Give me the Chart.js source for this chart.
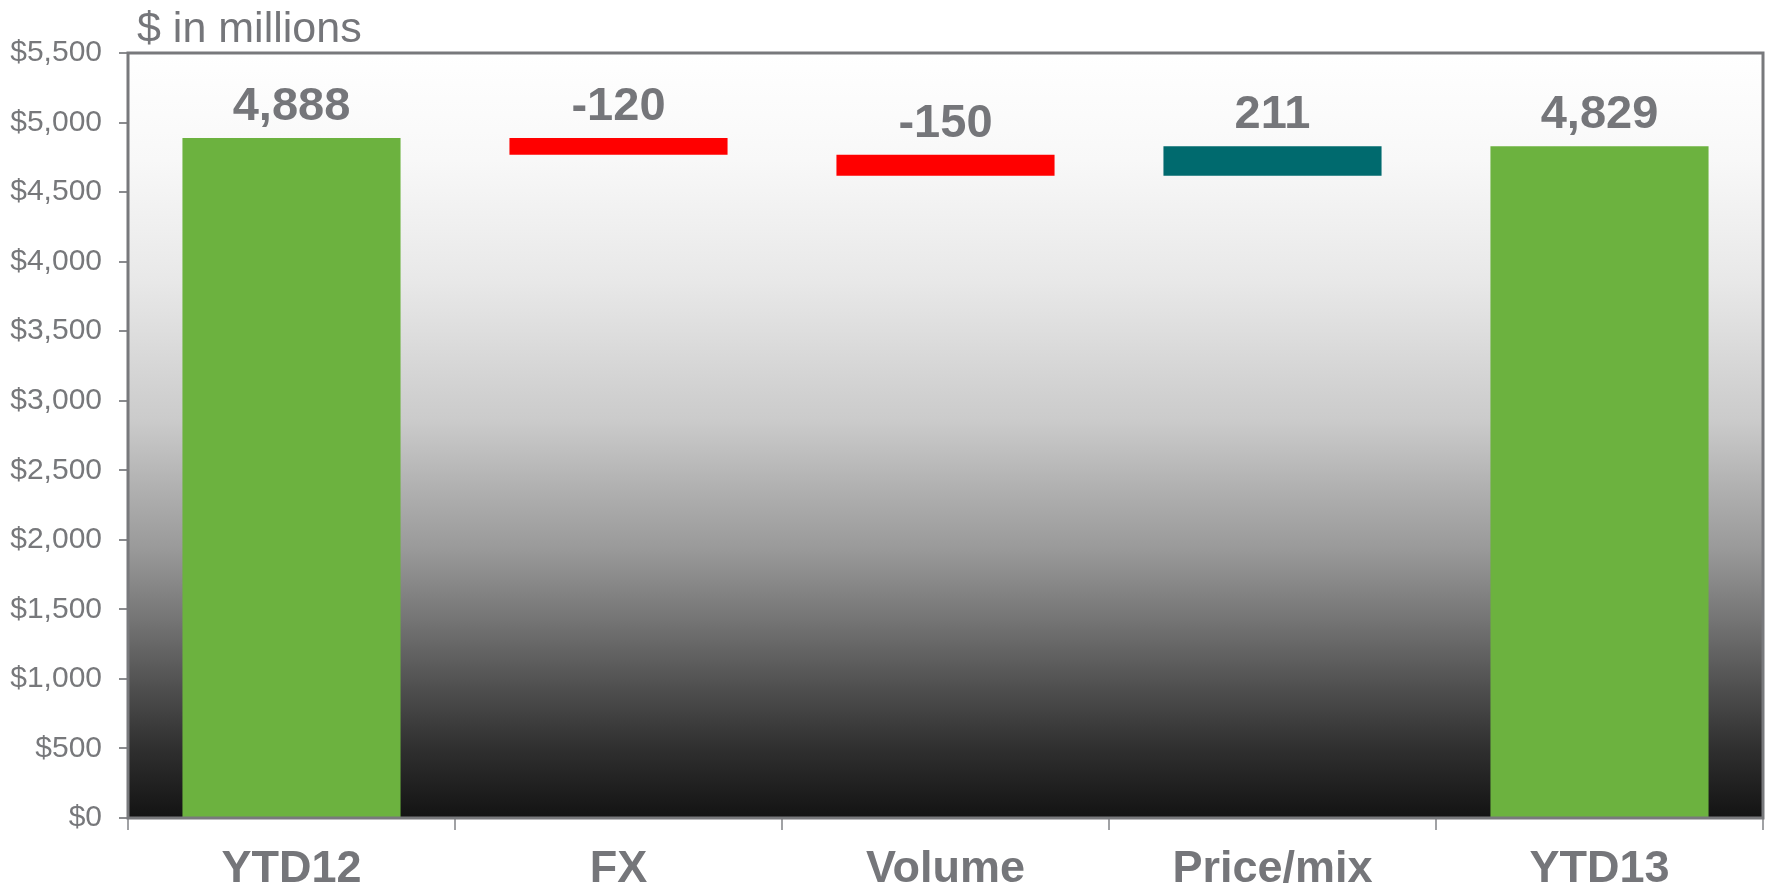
<!DOCTYPE html>
<html>
<head>
<meta charset="utf-8">
<script src="https://cdn.jsdelivr.net/npm/chart.js@4.4.1/dist/chart.umd.min.js"></script>
<style>
    html, body { margin: 0; padding: 0; background: #ffffff; }
    #wrap { width: 1769px; height: 890px; position: relative; }
</style>
</head>
<body>
<div id="wrap"><canvas id="waterfallChart"></canvas></div>
<script>
// Waterfall data, $ in millions
const categories = ['YTD12', 'FX', 'Volume', 'Price/mix', 'YTD13'];
const changes = [4888, -120, -150, 211, 4829];
const barKinds = ['total', 'delta', 'delta', 'delta', 'total'];
const yTicks = [0, 500, 1000, 1500, 2000, 2500, 3000, 3500, 4000, 4500, 5000, 5500];

const FONT = "'Liberation Sans', Arial, sans-serif";
const GREY = '#75767a';
const green = '#6cb23f';
const red = '#ff0000';
const teal = '#006a6e';

// Build floating [start, end] ranges from the running total
let running = 0;
const ranges = changes.map((v, i) => {
    if (barKinds[i] === 'total') {
        running = v;
        return [0, v];
    }
    const start = running;
    running += v;
    return [start, running];
});
const colors = changes.map((v, i) => barKinds[i] === 'total' ? green : (v < 0 ? red : teal));

// Plot area background + frame + value labels + unit note
const decorations = {
    id: 'decorations',
    beforeDatasetsDraw(chart) {
        const { ctx, chartArea: a } = chart;
        const g = ctx.createLinearGradient(0, a.top, 0, a.bottom);
        g.addColorStop(0, '#ffffff');
        g.addColorStop(0.14, '#f8f8f8');
        g.addColorStop(0.30, '#e8e8e8');
        g.addColorStop(0.48, '#cbcbcb');
        g.addColorStop(0.57, '#b0b0b0');
        g.addColorStop(0.65, '#999999');
        g.addColorStop(0.74, '#757575');
        g.addColorStop(0.83, '#4f4f4f');
        g.addColorStop(0.91, '#2f2f2f');
        g.addColorStop(1, '#131313');
        ctx.save();
        ctx.fillStyle = g;
        ctx.fillRect(a.left, a.top, a.right - a.left, a.bottom - a.top);
        ctx.restore();
    },
    afterDatasetsDraw(chart) {
        const { ctx, chartArea: a } = chart;
        ctx.save();
        ctx.strokeStyle = '#78797c';
        ctx.lineWidth = 3;
        ctx.strokeRect(a.left, a.top, a.right - a.left, a.bottom - a.top);

        // value labels above each bar
        ctx.fillStyle = GREY;
        ctx.font = 'bold 47px ' + FONT;
        ctx.textAlign = 'center';
        ctx.textBaseline = 'alphabetic';
        chart.getDatasetMeta(0).data.forEach((bar, i) => {
            const top = Math.min(bar.y, bar.base);
            ctx.fillText(changes[i].toLocaleString('en-US'), bar.x, top - 18);
        });

        // unit note
        ctx.font = '43px ' + FONT;
        ctx.textAlign = 'left';
        ctx.fillText('$ in millions', a.left + 9, 42);
        ctx.restore();
    }
};

const ctx = document.getElementById('waterfallChart').getContext('2d');
new Chart(ctx, {
    type: 'bar',
    data: {
        labels: categories,
        datasets: [{
            data: ranges,
            backgroundColor: colors,
            borderWidth: 0,
            borderSkipped: false,
            barPercentage: 0.667,
            categoryPercentage: 1.0
        }]
    },
    options: {
        responsive: true,
        maintainAspectRatio: false,
        animation: false,
        layout: { padding: { top: 53, right: 6, left: 0, bottom: 0 } },
        plugins: {
            legend: { display: false },
            tooltip: { enabled: false },
            title: { display: false }
        },
        scales: {
            y: {
                min: 0,
                max: 5500,
                afterBuildTicks: (scale) => {
                    scale.ticks = yTicks.map(v => ({ value: v }));
                },
                afterFit: (scale) => { scale.width = 128; },
                border: { display: false },
                grid: {
                    drawOnChartArea: false,
                    tickLength: 9,
                    tickColor: '#8a8b8e',
                    lineWidth: 2
                },
                ticks: {
                    padding: 17,
                    color: '#77787b',
                    font: { family: FONT, size: 30 },
                    callback: (v) => '$' + Number(v).toLocaleString('en-US')
                }
            },
            x: {
                afterFit: (scale) => { scale.height = 72; },
                border: { display: false },
                grid: {
                    offset: true,
                    drawOnChartArea: false,
                    tickLength: 12,
                    tickColor: '#a0a1a4',
                    lineWidth: 2
                },
                ticks: {
                    padding: 13,
                    color: GREY,
                    font: { family: FONT, size: 45, weight: 'bold' }
                }
            }
        }
    },
    plugins: [decorations]
});
</script>
</body>
</html>
